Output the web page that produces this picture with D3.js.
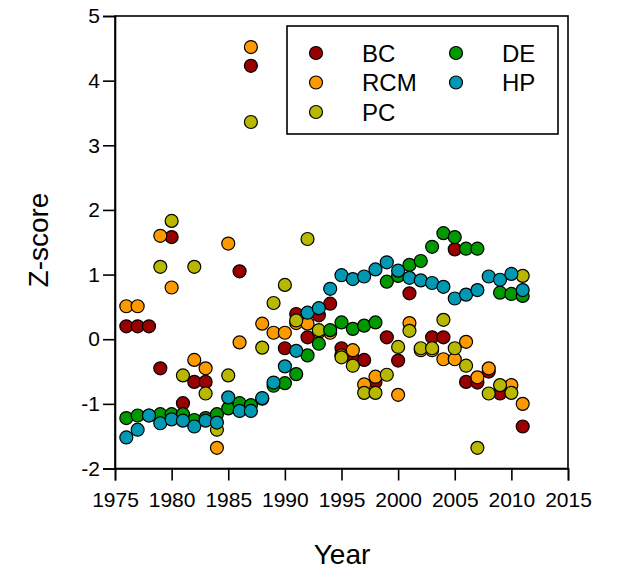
<!DOCTYPE html>
<html>
<head>
<meta charset="utf-8">
<script src="https://cdn.jsdelivr.net/npm/d3@7"></script>
<style>
  body { margin: 0; background: #fff; }
  svg { font-family: "Liberation Sans", Arial, sans-serif; }
</style>
</head>
<body>
<svg width="617" height="570"></svg>
<script>
// years 1976 - 2011, null where no point is shown
var years = d3.range(1976, 2012);

var bc  = [0.2, 0.2, 0.2, -0.45, 1.58, -0.99, -0.66, -0.66, null, null, 1.05, 4.23, null, null, -0.14, 0.39, 0.03, 0.37,
           0.55, -0.14, -0.29, -0.32, -0.66, 0.03, -0.33, 0.71, null, 0.03, 0.03, 1.39, -0.66, -0.67, -0.5, -0.84, null, -1.35];
var rcm = [0.51, 0.51, null, 1.6, 0.8, null, -0.32, -0.45, -1.68, 1.48, -0.05, 4.52, 0.24, 0.1, 0.1, 0.25, 0.24, 0.11,
           0.1, -0.25, -0.17, -0.7, -0.58, null, -0.86, 0.25, -0.17, -0.17, -0.31, -0.31, -0.04, -0.59, -0.45, null, -0.71, -1.0];
var pc  = [null, null, null, 1.12, 1.83, -0.56, 1.12, -0.84, -1.4, -0.56, null, 3.36, -0.13, 0.56, 0.84, 0.29, 1.55, 0.14,
           null, -0.28, -0.41, -0.83, -0.83, -0.55, -0.12, 0.13, -0.14, -0.14, 0.3, -0.14, -0.41, -1.68, -0.84, -0.71, -0.83, 0.98];
var de  = [-1.22, -1.18, -1.18, -1.16, -1.16, -1.16, -1.25, -1.22, -1.16, -1.07, -0.99, -1.02, -0.92, -0.72, -0.68, -0.54, -0.25, -0.07,
           0.14, 0.26, 0.16, 0.21, 0.26, 0.89, 0.98, 1.15, 1.21, 1.43, 1.64, 1.58, 1.4, 1.4, null, 0.72, 0.7, 0.67];
var hp  = [-1.52, -1.4, -1.18, -1.3, -1.24, -1.26, -1.35, -1.26, -1.29, -0.9, -1.11, -1.11, -0.91, -0.67, -0.42, -0.18, 0.41, 0.48,
           0.78, 0.99, 0.93, 0.97, 1.08, 1.19, 1.06, 0.95, 0.91, 0.87, 0.81, 0.63, 0.69, 0.76, 0.97, 0.92, 1.01, 0.76];

var seriesNames = ["BC", "RCM", "PC", "DE", "HP"];
var seriesColors = ["#990000", "#ff9900", "#b8b800", "#009900", "#0099b4"];
var seriesValues = [bc, rcm, pc, de, hp];

var xTicks = [1975, 1980, 1985, 1990, 1995, 2000, 2005, 2010, 2015];
var yTicks = [-2, -1, 0, 1, 2, 3, 4, 5];

drawChart();

function drawChart() {
var svg = d3.select("svg");
var plotLeft = 115, plotRight = 568, plotTop = 16, plotBottom = 468.5;

var x = d3.scaleLinear().domain([1975, 2015]).range([plotLeft, plotRight]);
var y = d3.scaleLinear().domain([-2, 5]).range([plotBottom, plotTop]);

// frame
svg.append("rect")
   .attr("x", plotLeft).attr("y", plotTop)
   .attr("width", plotRight - plotLeft).attr("height", plotBottom - plotTop)
   .attr("fill", "none").attr("stroke", "#000").attr("stroke-width", 1.6);

var xAxis = svg.append("g")
   .attr("transform", "translate(0," + plotBottom + ")")
   .call(d3.axisBottom(x).tickValues(xTicks).tickFormat(function(d) { return String(d); }).tickSize(12).tickPadding(12));

var yAxis = svg.append("g")
   .attr("transform", "translate(" + plotLeft + ",0)")
   .call(d3.axisLeft(y).tickValues(yTicks).tickFormat(function(d) { return String(d); }).tickSize(12).tickPadding(3));

[xAxis, yAxis].forEach(function(g) {
  g.attr("font-size", 21).attr("font-family", "'Liberation Sans', Arial, sans-serif");
  g.selectAll("path, line").attr("stroke", "#000").attr("stroke-width", 1.6);
  g.selectAll("text").attr("fill", "#000");
});

// points
seriesValues.forEach(function(vals, i) {
  var pts = years.map(function(yr, j) { return { year: yr, value: vals[j] }; })
                 .filter(function(d) { return d.value !== null; });
  svg.append("g").selectAll("circle")
     .data(pts)
     .enter().append("circle")
     .attr("cx", function(d) { return x(d.year); })
     .attr("cy", function(d) { return y(d.value); })
     .attr("r", 6.5)
     .attr("fill", seriesColors[i])
     .attr("stroke", "#000")
     .attr("stroke-width", 1.2);
});

// legend
var legend = svg.append("g");
legend.append("rect")
      .attr("x", 287).attr("y", 26).attr("width", 271).attr("height", 108)
      .attr("fill", "#fff").attr("stroke", "#000").attr("stroke-width", 1.6);

seriesNames.forEach(function(name, i) {
  var col = i < 3 ? 0 : 1, row = i < 3 ? i : i - 3;
  var lx = 316 + col * 140, ly = 53 + row * 29.5;
  legend.append("circle")
        .attr("cx", lx).attr("cy", ly).attr("r", 6.5)
        .attr("fill", seriesColors[i]).attr("stroke", "#000").attr("stroke-width", 1.2);
  legend.append("text")
        .attr("x", lx + 46).attr("y", ly).attr("dy", "0.36em")
        .style("font-size", "24px")
        .text(name);
});

// axis titles
svg.append("text")
   .attr("x", 342).attr("y", 564)
   .attr("text-anchor", "middle")
   .style("font-size", "28px")
   .text("Year");

svg.append("text")
   .attr("transform", "translate(48,240) rotate(-90)")
   .attr("text-anchor", "middle")
   .style("font-size", "28px")
   .text("Z-score");
}
</script>
</body>
</html>
